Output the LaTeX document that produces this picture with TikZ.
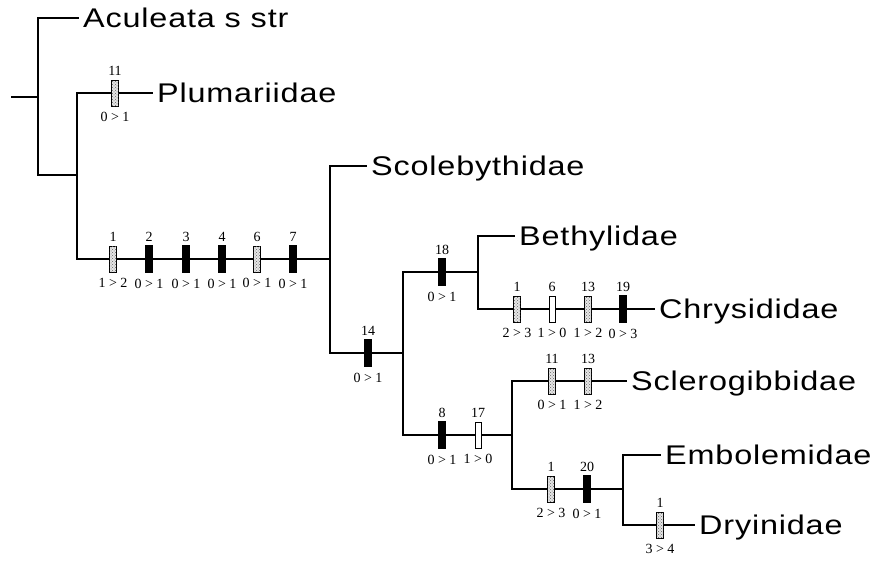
\documentclass[tikz,border=0pt]{standalone}
\usepackage{fontspec}
\usetikzlibrary{positioning,patterns}
\newfontfamily\taxfont[FakeStretch=1.2,LetterSpace=3]{Liberation Sans}
\newfontfamily\labfont{Liberation Serif}
\tikzset{
  tree/.style={line width=2.7pt, line cap=rect},
  taxon/.style={anchor=west, inner sep=0pt, text height=19pt, text depth=0pt,
    font=\taxfont\fontsize{27}{30}\selectfont},
  blk/.style={draw=black, fill=black, line width=0.6pt, minimum width=7pt, minimum height=27pt, inner sep=0pt},
  stip/.style={draw=black, fill=gray!20, line width=0.6pt, minimum width=6.5pt, minimum height=26pt, inner sep=0pt,
    postaction={pattern=crosshatch dots, pattern color=gray!80!black}},
  opn/.style={draw=black, fill=white, line width=0.6pt, minimum width=6pt, minimum height=26pt, inner sep=0pt},
  numlab/.style={inner sep=0pt, text height=9.4pt, text depth=0pt, font=\labfont\fontsize{14}{15}\selectfont},
}
\newcommand\chmark[6]{%
  \node[#4] (#1) at (#2,#3) {};
  \node[numlab, above=4pt of #1] (#1t) {#5};
  \node[numlab, below=6pt of #1] (#1b) {#6};
}
\begin{document}
\begin{tikzpicture}[x=1pt,y=-1pt]
\useasboundingbox (0,0) rectangle (875,560);
% tree coordinates
\coordinate (r0) at (12,97);
\coordinate (r1) at (38,97);
\coordinate (n1t) at (38,18);  \coordinate (acuE) at (78,18);
\coordinate (n1b) at (38,175); \coordinate (n2m) at (77,175);
\coordinate (n2t) at (77,93);  \coordinate (pluE) at (152,93);
\coordinate (n2b) at (77,259); \coordinate (n3m) at (330,259);
\coordinate (n3t) at (330,166); \coordinate (scoE) at (366,166);
\coordinate (n3b) at (330,353); \coordinate (n4m) at (403,353);
\coordinate (n4t) at (403,272); \coordinate (n5m) at (478,272);
\coordinate (n4b) at (403,435); \coordinate (n6m) at (512,435);
\coordinate (n5t) at (478,236); \coordinate (betE) at (514,236);
\coordinate (n5b) at (478,309); \coordinate (chrE) at (654,309);
\coordinate (n6t) at (512,381); \coordinate (sclE) at (626,381);
\coordinate (n6b) at (512,489); \coordinate (n7m) at (623,489);
\coordinate (n7t) at (623,455); \coordinate (embE) at (660,455);
\coordinate (n7b) at (623,525); \coordinate (dryE) at (694,525);
% branches
\draw[tree] (r0) -- (r1);
\draw[tree] (acuE) -- (n1t) -- (n1b) -- (n2m);
\draw[tree] (pluE) -- (n2t) -- (n2b) -- (n3m);
\draw[tree] (scoE) -- (n3t) -- (n3b) -- (n4m);
\draw[tree] (n5m) -- (n4t) -- (n4b) -- (n6m);
\draw[tree] (betE) -- (n5t) -- (n5b) -- (chrE);
\draw[tree] (sclE) -- (n6t) -- (n6b) -- (n7m);
\draw[tree] (embE) -- (n7t) -- (n7b) -- (dryE);
% taxa
\node[taxon] (acu) at ([xshift=5pt]acuE) {Aculeata s str};
\node[taxon] (plu) at ([xshift=5pt]pluE) {Plumariidae};
\node[taxon] (sco) at ([xshift=5pt]scoE) {Scolebythidae};
\node[taxon] (bet) at ([xshift=5pt]betE) {Bethylidae};
\node[taxon] (chr) at ([xshift=5pt]chrE) {Chrysididae};
\node[taxon] (scl) at ([xshift=5pt]sclE) {Sclerogibbidae};
\node[taxon] (emb) at ([xshift=5pt]embE) {Embolemidae};
\node[taxon] (dry) at ([xshift=5pt]dryE) {Dryinidae};
% character marks
\chmark{pa}{115}{93}{stip}{11}{0 > 1}
\chmark{ma}{113}{259}{stip}{1}{1 > 2}
\chmark{mb}{149}{259}{blk}{2}{0 > 1}
\chmark{mc}{186}{259}{blk}{3}{0 > 1}
\chmark{md}{222}{259}{blk}{4}{0 > 1}
\chmark{me}{257}{259}{stip}{6}{0 > 1}
\chmark{mf}{293}{259}{blk}{7}{0 > 1}
\chmark{ka}{368}{353}{blk}{14}{0 > 1}
\chmark{ba}{442}{272}{blk}{18}{0 > 1}
\chmark{ca}{517}{309}{stip}{1}{2 > 3}
\chmark{cb}{552}{309}{opn}{6}{1 > 0}
\chmark{cc}{588}{309}{stip}{13}{1 > 2}
\chmark{cd}{623}{309}{blk}{19}{0 > 3}
\chmark{la}{442}{435}{blk}{8}{0 > 1}
\chmark{lb}{478}{435}{opn}{17}{1 > 0}
\chmark{sa}{552}{381}{stip}{11}{0 > 1}
\chmark{sb}{588}{381}{stip}{13}{1 > 2}
\chmark{ea}{551}{489}{stip}{1}{2 > 3}
\chmark{eb}{587}{489}{blk}{20}{0 > 1}
\chmark{da}{660}{525}{stip}{1}{3 > 4}
\end{tikzpicture}
\end{document}
